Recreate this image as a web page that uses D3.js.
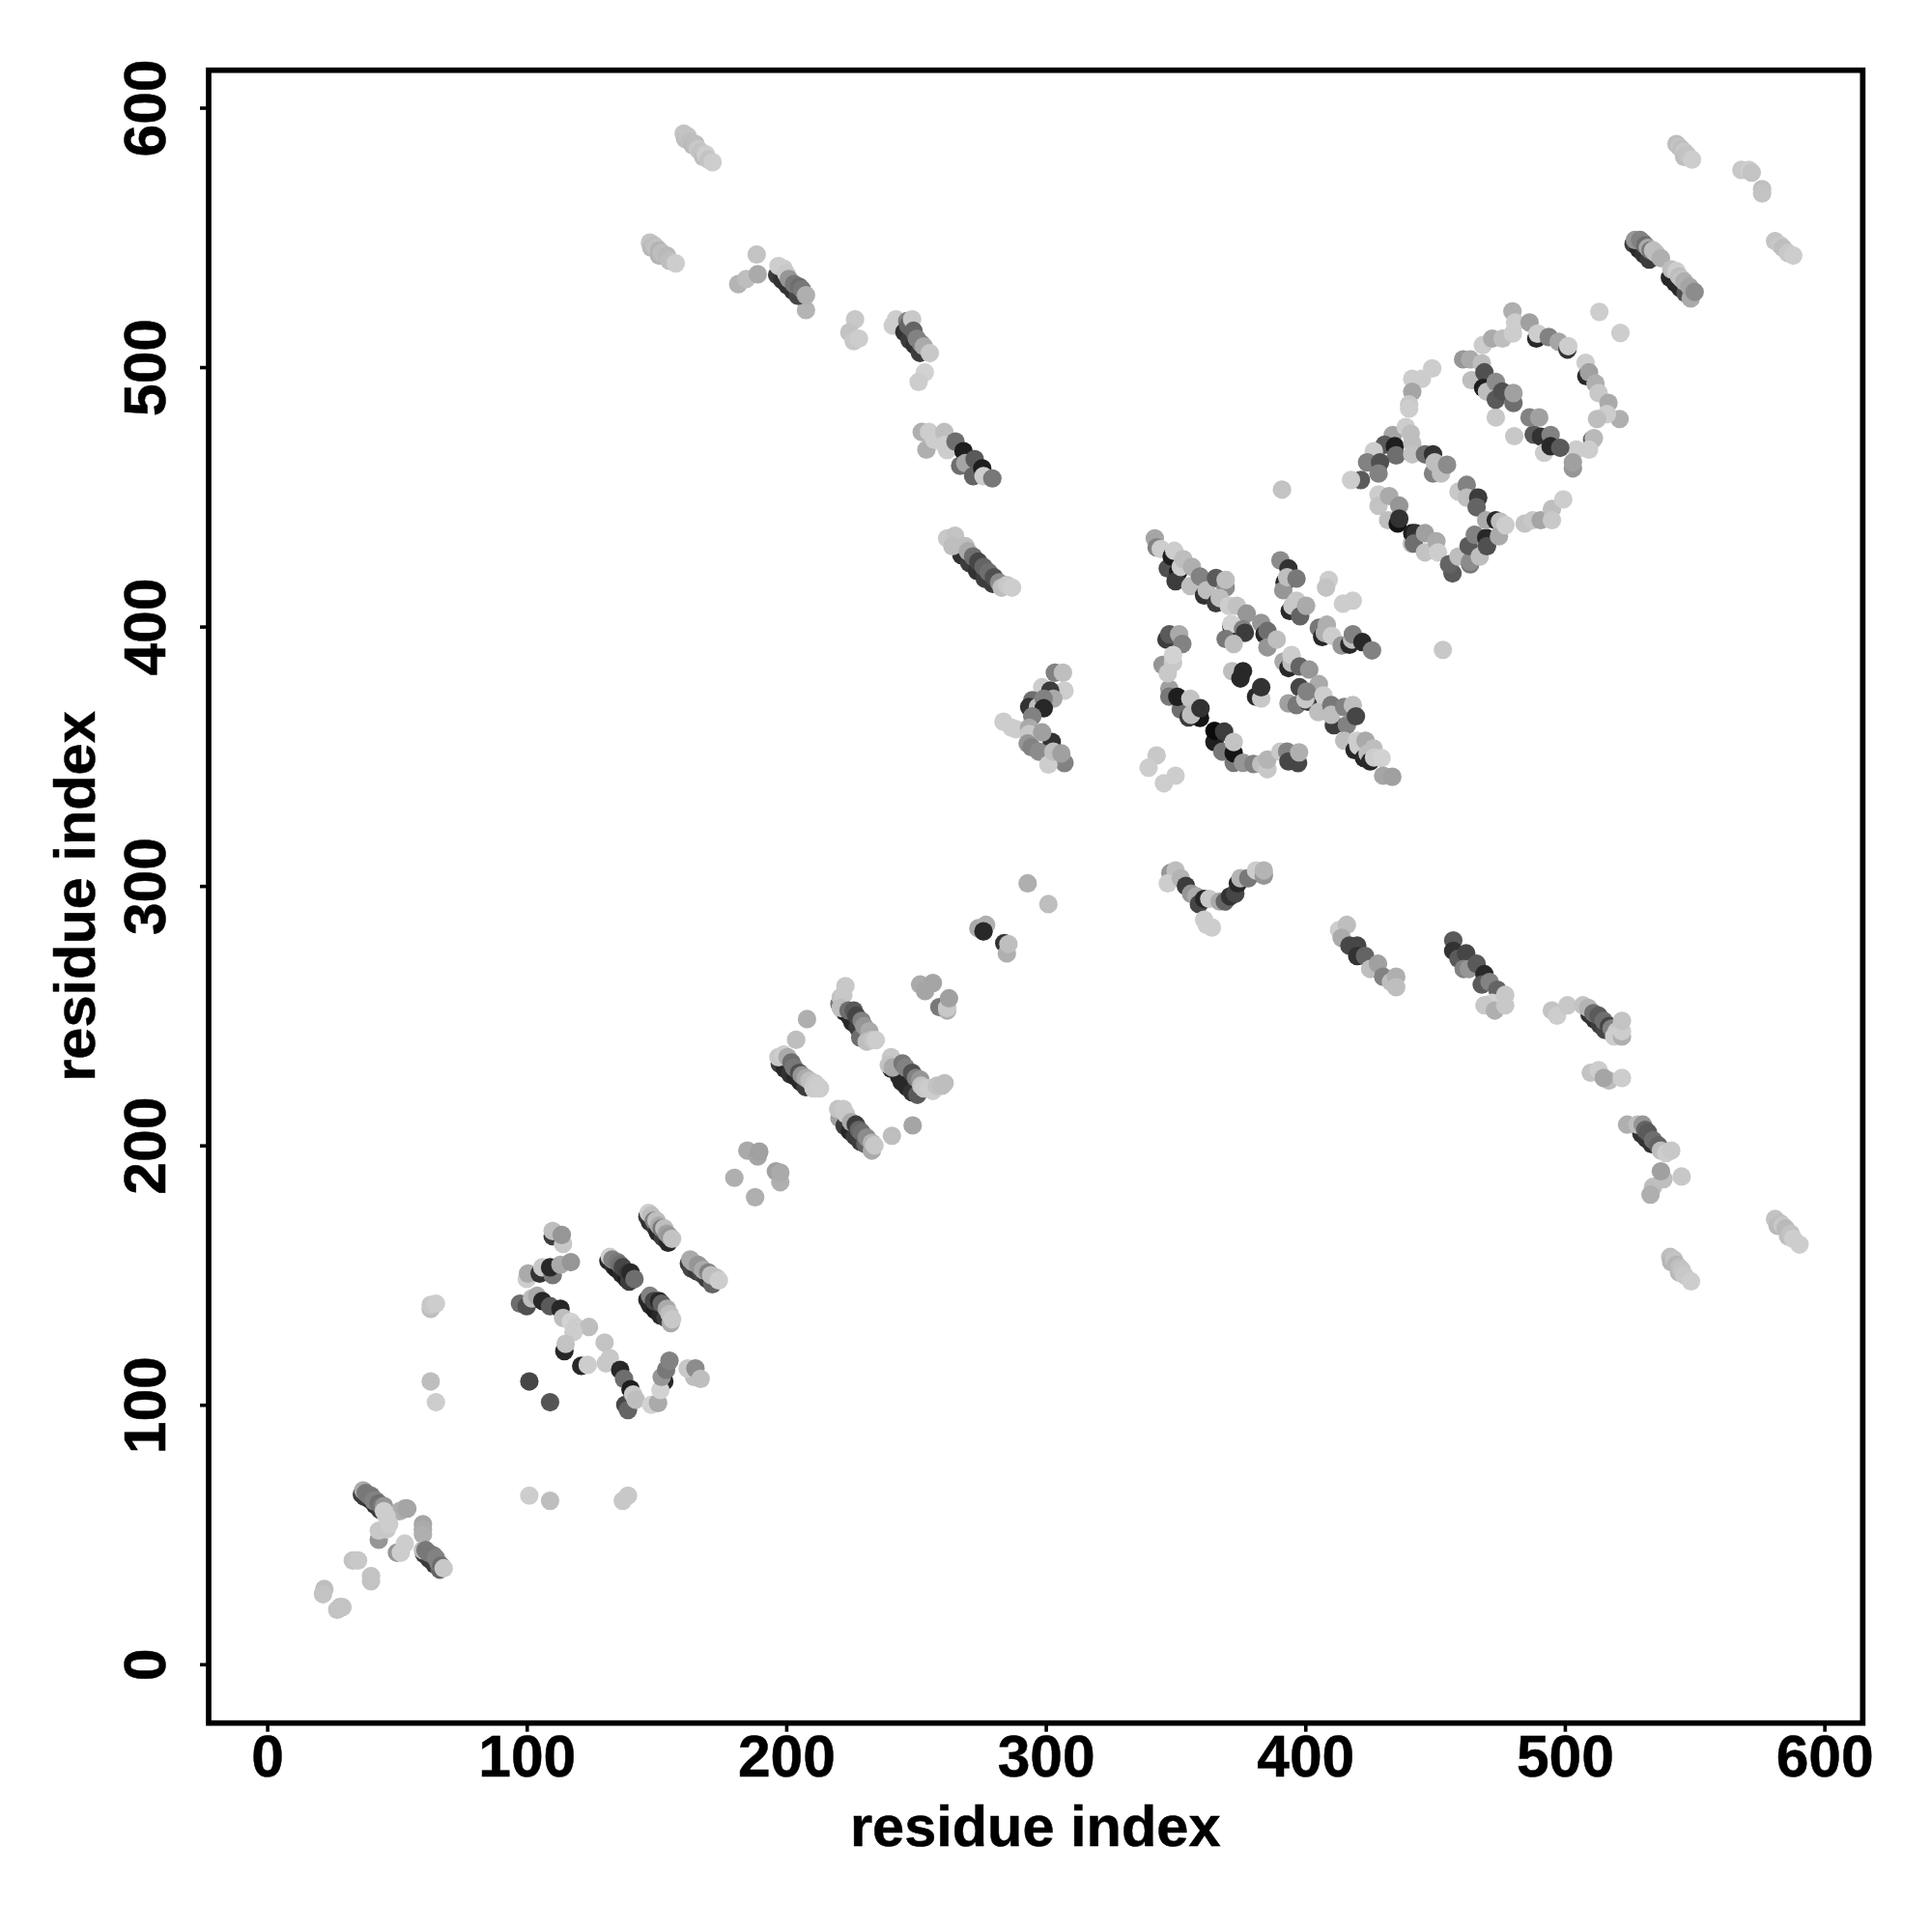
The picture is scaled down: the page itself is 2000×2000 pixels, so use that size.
<!DOCTYPE html>
<html><head><meta charset="utf-8">
<style>html,body{margin:0;padding:0;background:#fff}svg{display:block}</style>
<script src="https://cdn.jsdelivr.net/npm/d3@7"></script></head>
<body><div id="chart"></div>
<script>
// each contact: [residue x, residue y, grey level of the point]
const helixNearStart = [[22,29,190],[21.5,27,195],[28,22,190],[27,21,195],[29,22,195],[33,40,195],[35,40,200],[40,34,195],[40,32,195],
[36.5,65.5,60],[37.5,64.5,60],[39.5,63.5,50],[41.5,61.5,50],[43.5,59.5,60],
[37,67,170],[38,66,120],[39,65,120],[40,65,120],[41,63,130],[42,63,130],[43,62,110],[44,61,120],[45,61,150],[43,48,150],
[51,59,175],[53,60,170],[54,60,165],[60,54,165],[60,52,170],[60,50,175],
[50,43,150],[51.5,43,205],[53,46.5,205],[46,52,200],[43,51.5,200],[47,54,205],[46,57,205],[45,59,205],
[60.5,42.5,60],[62.5,40.5,60],[64.5,38.5,60],[66.5,36.5,100],
[60,44,190],[61,44,120],[62,43,120],[64,42,120],[65,41,130],[66,39,130],[67,38,110],[68,37,200]];
const isolatedLow = [[63,137,190],[63,138.5,200],[65,139,205],[63,109,190],[65,101,205],[101,109,70],[109,101,85],[101,65,205],[109,63,190],[137,63,200],[139,65,200],[180,187.5,175],[188,180,175],[203.8,240.7,190],[208,248.7,175],[240.7,203.7,190],[248.7,207.7,165],[293,301,175],[301,293,190]];
const block100 = [[110,165,60],[110,167,190],[114,162,200],[113.5,165.5,150],
[100,148.5,205],[100.5,150.6,170],[105,150.6,50],[106,153,200],[110,150,120],[109,153,40],[113,154,170],[117,155,150],
[97.4,139,110],[100,138,80],[102,141,190],[104,142,170],[106,140,40],[109,138,90],[113,137,40],[114,133.5,190],[117,132,210],[119,130,205],[124,130,190],[118,128,205],
[114.5,120.7,40],[115,123.5,195],[121,115,40],[123.5,115.4,205],[130,124,195],[130.5,116,200],[132,118,200],
[136,113.5,40],[137.5,110,110],[138,100,70],[139,98,100],[140,106,30],[141,104,200],[142,102,190],
[148,100,210],[150.6,100.7,170],[153,109,40],[151.5,105.7,210],[152,110.7,150],[153.7,113.5,120],[155,117,130],
[164.5,110.7,190],[162,114,200],[165,114,140],[167,110,190]];
const strands130 = [[131.5,155.5,40],[133.5,153.5,50],[134.5,152.5,30],[136.5,150.5,40],[138.5,148.5,30],[139.5,147.5,60],
[132,157,205],[133,156,130],[135,155,120],[136,154,110],[137,153,70],[139,151,60],[140,151,40],[141.5,148.5,110],
[146.5,140.5,40],[147.5,138.5,40],[149.5,136.5,30],[151.5,134.5,40],[153.5,133.5,60],
[147.5,142,130],[149,140,70],[151,140,40],[152,139,100],[154,137,170],[155.5,131.5,170],[155,135,190],[156,133,200],
[146.5,172.5,60],[147.5,170.5,50],[149.5,168.5,60],[150.5,166.5,40],[152.5,164.5,60],[154.5,162.5,40],
[147,174,205],[148,173,190],[149,171,130],[150,171,190],[151,169,170],[152,168,120],[153,168,190],[154,166,160],[155,165,150],[156,164,195],
[162.5,154.5,60],[163.5,152.5,70],[165.5,151.5,60],[167.5,150.5,70],[169.5,148.5,60],[171.5,146.5,100],
[163,156,170],[164,155,170],[166,154,150],[167,153,150],[168,152,170],[170,151,130],[171,150,190],[173,149,190],[174,148,205]];
const bridge190 = [[185,198,170],[189,195.7,165],[189.6,197.6,160],[196,190,160],[197.7,185.8,175],[197.7,189.5,170]];
const strands200 = [[197.5,231.5,60],[199.5,229.5,40],[201.5,227.5,50],[203.5,226.5,40],[205.5,224.5,40],[207.5,222.5,60],
[197,234,200],[199,235,205],[200.5,234,170],[202,232,110],[203,230,120],[205,228,80],[206,227,150],[207.5,226,170],[209,225,190],[210.5,222,205],[211,224,200],[212,223,205],[213,222,205],
[220.5,254.5,120],[222.5,251.5,40],[224.5,249.5,40],[225.5,247.5,40],[227.5,245.5,60],[229.5,243.5,60],[228.5,241.5,110],[231.5,240.5,60],
[221,257,195],[222.8,261.4,200],[222,258,200],[221,253,190],[224,252,110],[226,252,90],[227,250,70],[229,248,130],[230,246,150],[232,244,170],[231,240,190],[233,240.6,195],[234.5,240.6,205],
[240.5,229.5,40],[243.5,226.5,40],[244.5,224.5,40],[246.5,222.5,40],[248.5,220.5,50],[250.5,219.5,90],
[240.4,234,200],[239.5,231,195],[241,230,170],[244.8,231.6,120],[246,230,130],[248.5,228,80],[250,226,130],[251.6,225.4,150],[252,223,195],[253,222,200],[255,222,205],[256.5,221,205],[258,223,195],[260,223,190],[261,224,190],
[220.5,210.5,160],[222.5,207.5,60],[224.5,205.5,40],[226.5,203.5,60],[228.5,201.5,60],[230.5,200.5,100],
[220,214,195],[222,214,200],[223,212,200],[225,209,170],[226.8,208,60],[228,206,100],[229,205,110],[231,203,140],[233,198,170],[233,201,180],[234,200,200],
[251.6,262,170],[256.5,262.6,165],[253.5,259.5,165],[259,253.3,120],[262,252,175],[262,253,200],[262.7,256.7,160],
[274,283.7,170],[277,285,175],[276,282.5,40],[284,278,50],[285,274,175],[285.6,277.6,190]];
const topLeftBands = [[160.5,590,195],[161,588,190],[162,589,195],[163,587,190],[164,585.5,185],[165,586,190],[166,584,200],[167,583,195],[168,581,190],[169,582,205],[170,580,195],[171.6,579,205],
[147.5,548,195],[148,546,185],[149,547,190],[150,546,195],[151,545,180],[151,543,180],[152,544,190],[154,543,185],[155,541,190],[157.4,540,205],
[181.5,532,180],[184.6,534,190],[188.6,543.4,195],[189,535.8,170],
[207.6,522,180],[196.5,535.5,60],[198.5,533.5,50],[200.5,531.5,50],[202.5,529.5,50],[204.5,527.5,70],
[197,539,205],[199,538,205],[200,536,200],[201,534,150],[203,532,120],[205,531,110],[206,530,120],[207.6,527.7,175],
[226.5,518.4,200],[224.3,513.4,195],[226,510,200],[228,511,205],
[242.3,518.4,205],[241,516,205],[245.5,513.5,50],[247.5,510.5,60],[249.5,508.5,50],[251.5,505.5,60],
[246.6,517.8,130],[247,516,100],[248.5,518.4,200],[249,514,100],[250.3,511,130],[252,509,130],[253,508,170],[255.3,505.4,200],[253.4,498,210],[251,494.3,205],
[252.2,475,175],[254,468.2,175],[255,475,205],[257,472,205],[260.9,475,190],[261,470,205],[262,468,205],[265.2,471.3,110],[268.3,467.6,30],[267,462,110],[269,463,165],[272.6,464.5,90],[272,458,100],[275.5,461,30],[276,458,205],[279.4,457.1,120],
[267.5,427.5,50],[270.5,424.5,60],[273.5,421.5,50],[276.5,418.5,60],[279.5,416.5,60],
[262,434,200],[265,435,195],[264,431,190],[269,431,190],[270,429,170],[272,427,110],[274,425,70],[276,423,100],[278,421,110],[280,419,80],[282,417,140],[283,415,190],[285,416,200],[287,415,205]];
const vee300 = [[283.7,363.3,205],[286.8,361,205],[288.6,360.4,205],
[303.5,382.2,130],[306.6,382.2,190],[307.2,375.3,205],[298.6,376.6,205],[301.7,375.3,60],[302.9,372.2,170],[294.8,371.6,110],[293.6,369,50],[297,369,190],[299.2,372.2,130],[299.2,368.5,40],[294.8,365.4,130],[293.6,361,170],[293.6,358.6,200],[293,354.9,150],[294.5,353.5,130],[302.3,355.5,50],[298.6,359.2,160],[297.3,351.8,140],[307.2,347.4,130],[301,346.8,205],[302.9,351.8,190],[306,351.1,160],
[348,305,150],[350,306,190],[347,301,205],[352,303,180],[354,300,60],[356,297,150],[358,296,170],[359,293,70],[361,295,40],[363,295,200],[361,287,205],[362,285,205],[364,284,205],[367,294,170],[369,294,100],[371,296,50],[373,297,70],[374,301,40],[375,303,180],[378,303,120],[381,306,205],[384,304,150],[384,306,180]];
const centralCross = [[342.7,350.3,200],[339.6,345.6,205],[345.5,339.6,205],[350,342.5,205],
[342,434,165],[342.7,430.5,130],[344.3,429.9,205],[347,422.4,80],[348.5,427,30],[349.5,429.2,205],[351,421,30],[350,417.5,60],[352,423,205],[353,426,190],[356.3,423,175],[355.7,415.6,190],[359.4,419.3,130],[361,412,50],[362,414,190],[365.6,418.7,90],[369.3,415,140],[369.3,418,190],[365.6,409,60],[367,411,190],[370.5,408,205],[373.6,408,195],[377.4,405,150],[371.5,400,40],[371.5,401,210],[376,399,130],[376.7,397.6,60],[369.3,395.2,120],[372.4,393.3,190],[383,401.4,150],[384.3,397,40],[385.4,398.3,110],[385.4,392,150],[389,395,190],
[390.4,425.5,140],[392,417,40],[393.5,422.4,50],[391.5,414,150],[393,419,190],[396.6,418.5,120],[394,406,40],[395,408,200],[396.6,410,200],[398,404,100],[400.3,408,170],
[409,418,205],[408,415,195],[414.5,408.8,205],[418.3,410,205],
[405.2,399.5,120],[406.5,396,40],[407.5,397.5,175],[408.3,400.7,175],[410.2,396.4,205],[414,392.7,150],[417,393,40],[418,395,190],[418.3,397,130],[422,394,40],[425.7,390.8,130],
[371.8,382.8,190],[375,380,40],[376,382.8,40],[381,373,40],[383,372.2,200],[383,376.6,50],
[391.6,386.5,170],[393.5,384,40],[394.7,386,190],[394.7,389,205],[397.8,384.6,100],[401.5,383.4,150],[405.2,377.8,170],
[393.5,370.4,160],[396.6,369.7,120],[397.8,376.6,70],[401,371,60],[400,372,200],[400.5,375,130],
[407,373.5,205],[405,367,190],[410,369.7,120],[411,362,60],[410,366,190],[415,369,130],[416,362,130],[418.3,369.7,190],[419.5,365.4,70],
[415,356,190],[419,352.4,40],[420.5,354,205],[420,356,205],[423.2,356,170],[422.6,349.3,40],[424,351,190],[425,348,40],[426.3,353,190],[426.5,349.5,205],[429.4,349.3,210],[430,342.5,165],[433.5,342.1,160],
[345,385.2,150],[347.6,376,160],[347.6,373,120],[346.5,395,60],[347.6,397,90],[351.4,397,170],[352.6,393.3,130],[347,382,200],[349,386,200],[349,389,210],
[352,368,110],[350.7,372.9,30],[355.7,372.2,195],[355,365,60],[359.4,364.8,20],[356,366,190],[359.6,368.5,50],
[365,355.5,30],[365,359.8,10],[368.7,359.5,60],[368,351.8,120],[372.4,347.5,120],[372.4,351.2,20],[372.4,355.5,195],
[376,347.5,150],[380,347,130],[383,347,190],[385.4,345,200],[385.4,348.7,180],[390.4,351.8,200],[393,351.8,130],[393.5,348,70],[397.2,347.4,70],[397.6,351.5,175]];
const ringUpper = [[513.3,521.3,205],[521.4,513.2,205],[453,391,200],[391,452.8,195],
[460.8,503,150],[463.5,503,170],[468.4,508.5,205],[472,511,170],[476,511,190],[479.8,521.5,175],[480,513,205],[480.8,517.2,205],[486.4,517.2,160],[489,511,40],[489.5,512.9,205],[493.8,511.6,130],[497.6,509.8,165],[501,506.8,50],[501.3,508.1,205],
[508,501.7,205],[508.3,496.5,40],[509.3,498,160],[511.8,493.7,175],[513,490,200],[516.8,486.2,170],[521.1,480,175],[516.2,481.9,205],[512.4,480,190],[510.5,472,100],[511.2,472.6,185],[509.3,468.2,205],[504.4,468.2,205],
[503.1,461,150],[503.1,463.3,160],[488,474,90],[490.8,473.2,50],[492,467,205],[486.4,480.6,130],[490.1,480.6,160],[494.5,473.8,130],[494.5,469.5,40],[498.2,468.9,90],
[473.4,480.6,200],[480.5,473.4,200],
[464,495,190],[468,501.5,190],[469,498,80],[468.5,492,30],[470,490.5,190],[473.4,494.3,140],[473.4,487.5,90],[475.9,490.6,80],[480.2,486.2,110],[480.2,490,160]];
const ringLower = [[448.9,499.5,205],[444.9,495.5,205],[441.2,495.5,205],[441.2,490.5,165],[440,485.6,200],[440,484,205],
[433.7,473.8,165],[430.6,470.1,90],[434.5,469.5,30],[435,466,110],[426.4,467.6,205],[438.7,476.9,205],[440.6,474.4,190],[441.2,470.6,190],[441.2,466.4,195],
[423.8,463.3,130],[428.8,463.3,80],[428.2,459,130],[421.4,456.5,90],[417.6,456.5,205],
[446.1,466.4,110],[449.2,466.4,50],[449.2,459,130],[449.9,463.3,190],[452.3,459,190],[454.6,462.4,140],
[428.2,450.9,205],[428.2,446.5,195],[432.3,450.3,170],[431.9,441,190],[435.6,439.7,20],[436.2,446.6,150],[436.2,441.6,50],
[441,432,190],[441.2,436,30],[442.4,436,50],[441.8,432,110],[446.1,436,160],[446.1,428.6,195],[450.5,432.9,170],[451.1,428.6,205],
[456.7,420.5,90],[455.4,424,100],[459,427,190],[463.5,424,120],[463.5,425,140],[462.9,431.1,90],[467.2,427,190],
[459,452,200],[462.2,454.6,130],[462.2,449.7,190],[466.6,449.7,60],[466,446,100],[465.3,435.4,130],[469.7,434.2,40],[470,431,80],[469.7,441,170],[473.4,441,40],[475,440.5,190],[474.6,434.8,170],[477.1,439.1,205],
[484.5,439.7,195],[487.6,441,200],[490.7,441,165],[495,445.3,190],[495,441,200],[499.4,449,205]];
const lowerRightBands = [[413,283,205],[416,285,190],[414,280,170],[417,277,70],[420,277,70],[420,273,50],[423,273,100],[425,268,190],[428,270,160],[430,265,130],[433,263,190],[435,265,175],[435,261,190],
[457,279,90],[457,275,50],[459,272,90],[462,274,70],[461,268,130],[463,268,150],[466,270,90],[469,266,40],[468,262,90],[471,263,130],[474,260,100],[472,255,210],[469,254,200],[473,252,175],[477,254,200],[477,258,200],
[495,252,195],[497,250,205],[501,254,200],
[509.5,250.5,50],[511.5,248.5,50],[513.5,246.5,60],[515.5,244.5,70],
[507,254,195],[509,253,180],[511,251,110],[513,250,90],[515,248,110],[517,246,70],[518,245,130],[520,244,200],[519,242,205],[522,242,175],[522,244,205],[522,248,195],
[510,228,195],[513,229,205],[517,225,190],[515,226,165],[522,226,205],
[529.5,204.5,50],[531.5,202.5,50],[533.5,200.5,50],
[524,208,175],[528,208,190],[530,208,150],[531,206,100],[532,205,90],[534,202,110],[536,200,100],[537,198,190],[539,197,205],[541,198,200],[534,184,190],[533,181,175],[538,187,190],[537,190,160],[545,188,200],
[540.6,157,190],[541,155,180],[542,156,195],[543,154,180],[544,153,190],[544,151,185],[545,152,195],[546,150,200],[548.6,147.6,205],
[581,171.6,195],[582,169,185],[583,170,190],[584,169,200],[585,168,185],[586,165,190],[587,166,195],[588,164,205],[590.4,161.8,205]];
const upperRightBands = [[543,586,190],[544,585,195],[545,584,190],[546,583,200],[546,581,190],[547,582,195],[549,580,205],
[568,576,200],[571,576,205],[572,575,195],[576,568.6,190],[576,567,195],
[581,548.6,195],[583,547,200],[584,546,190],[586,544,200],[588,543,205],
[526.5,547.5,60],[528.5,545.5,40],[530.5,543.5,50],[532.5,541.5,60],
[527,549,150],[529,549,130],[530,548,130],[531,547,110],[532,546,170],[533,545,120],[534,545,190],[535,544,190],[537,542,175],
[540.5,534.5,40],[542.5,532.5,40],[544.5,530.5,40],[546.5,528.5,80],[548.5,526.5,170],
[541,537.7,190],[543,537,205],[544,535,190],[545,534,195],[546,533,175],[548,531,165],[550,529,140]];

const allContacts = [helixNearStart, isolatedLow, block100, strands130, bridge190, strands200, topLeftBands, vee300, centralCross, ringUpper, ringLower, lowerRightBands, upperRightBands].flat();
const xTicks = [0,100,200,300,400,500,600];
const yTicks = [0,100,200,300,400,500,600];
const xTitle = "residue index", yTitle = "residue index";

const svg = d3.select("#chart").append("svg").attr("width",2000).attr("height",2000);
const x = d3.scaleLinear().domain([0,600]).range([276.6,1888.6]);
const y = d3.scaleLinear().domain([0,600]).range([1722.8,111.5]);
const font = "'Liberation Sans', Arial, sans-serif";

svg.append("g").selectAll("circle").data(allContacts).join("circle")
  .attr("cx",d=>x(d[0])).attr("cy",d=>y(d[1])).attr("r",9.6)
  .attr("fill",d=>d3.rgb(d[2],d[2],d[2]).formatHex());

svg.append("rect").attr("x",216).attr("y",72.7).attr("width",1712.3).attr("height",1711)
  .attr("fill","none").attr("stroke","#000").attr("stroke-width",5.7);

const ax = d3.axisBottom(x).tickValues(xTicks).tickSize(9).tickFormat(d3.format("d"));
const gx = svg.append("g").attr("transform","translate(0,1783.7)").call(ax);
gx.select(".domain").remove();
gx.selectAll("line").attr("stroke","#000").attr("stroke-width",3.6);
gx.selectAll("text").attr("fill","#000").attr("font-family",font).attr("font-weight",700).attr("font-size",60.5)
  .attr("y",54.8).attr("dy",null).attr("stroke","#000").attr("stroke-width",0.5);

const ay = d3.axisLeft(y).tickValues(yTicks).tickSize(9).tickFormat(d3.format("d"));
const gy = svg.append("g").attr("transform","translate(216,0)").call(ay);
gy.select(".domain").remove();
gy.selectAll("line").attr("stroke","#000").attr("stroke-width",3.6);
gy.selectAll("text").attr("fill","#000").attr("font-family",font).attr("font-weight",700).attr("font-size",60.5)
  .attr("x",null).attr("dy",null).attr("text-anchor","middle").attr("stroke","#000").attr("stroke-width",0.5)
  .attr("transform","translate(-45.5,0) rotate(-90)");

svg.append("text").attr("x",1071.7).attr("y",1911).attr("text-anchor","middle").attr("stroke","#000").attr("stroke-width",0.5)
  .attr("font-family",font).attr("font-weight",700).attr("font-size",59.5).text(xTitle);
svg.append("text").attr("transform","translate(98,928) rotate(-90)").attr("text-anchor","middle").attr("stroke","#000").attr("stroke-width",0.5)
  .attr("font-family",font).attr("font-weight",700).attr("font-size",59.5).text(yTitle);
</script></body></html>
